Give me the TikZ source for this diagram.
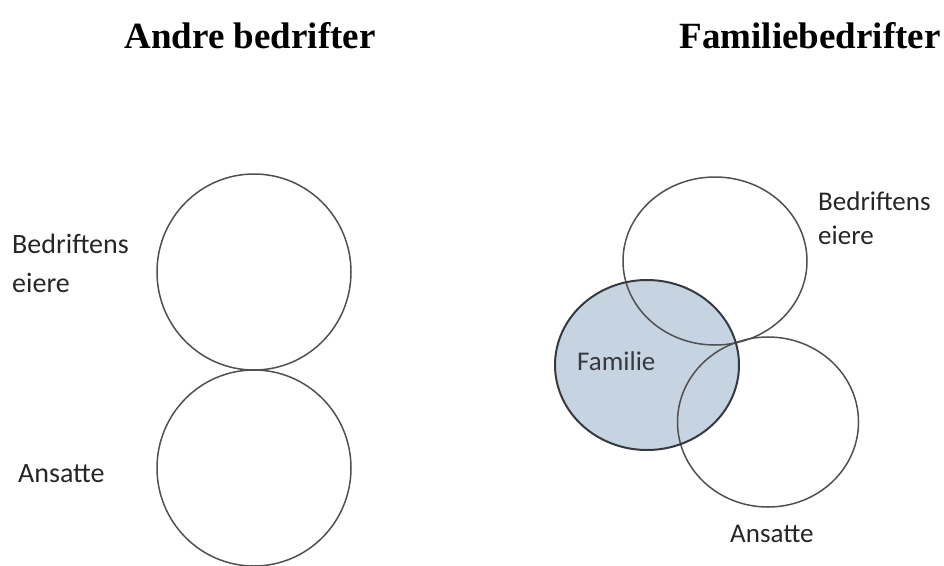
\documentclass[tikz,border=0pt]{standalone}
\usepackage{fontspec}
\setmainfont{Carlito}
\newfontfamily\headfont{Liberation Serif}
\usetikzlibrary{shapes.geometric}

\definecolor{famfill}{HTML}{C6D3E1}
\definecolor{ringgray}{HTML}{505050}
\definecolor{famline}{HTML}{363A40}
\definecolor{labelgray}{HTML}{262626}

\begin{document}
\begin{tikzpicture}[x=1pt, y=-1pt,
    ring/.style={ellipse, draw=ringgray, line width=1.5pt, inner sep=0pt},
    lbl/.style={font=\fontsize{28}{39}\selectfont, text=labelgray, inner sep=0pt, align=left, anchor=base west},
    heading/.style={font=\headfont\bfseries\fontsize{37}{44}\selectfont, inner sep=0pt, anchor=base}]

    \useasboundingbox (0,0) rectangle (944,565);

    % --- headings ---
    \node[heading] (hleft) at (250,48) {Andre bedrifter};
    \node[heading] (hright) at (810,48) {Familiebedrifter};

    % --- other firms: two separate circles ---
    \node[ring, minimum width=194pt, minimum height=196pt] (owners) at (254,272) {};
    \node[ring, minimum width=194pt, minimum height=196pt] (staff) at (254,468) {};

    % base anchor sits on the last line
    \node[lbl] (lowners) at (12,292) {Bedriftens\\eiere};
    \node[lbl] (lstaff) at (18,482) {Ansatte};

    % --- family firms: three overlapping rings ---
    \node[ellipse, fill=famfill, inner sep=0pt, minimum width=184pt, minimum height=170pt] (fam) at (647,365) {};
    \node[ring, minimum width=184pt, minimum height=168pt] (fowners) at (715,261) {};
    \node[ring, minimum width=181pt, minimum height=170pt] (fstaff) at (768,422) {};
    \draw[famline, line width=2pt] (fam.center) ellipse [x radius=92, y radius=85];

    \node[lbl, font=\fontsize{27}{34}\selectfont] (lfowners) at (818,244) {Bedriftens\\eiere};
    \node[lbl, font=\fontsize{27}{34}\selectfont, text=famline] (lfam) at (577,370) {Familie};
    \node[lbl, font=\fontsize{27}{34}\selectfont] (lfstaff) at (730,542) {Ansatte};

\end{tikzpicture}
\end{document}
